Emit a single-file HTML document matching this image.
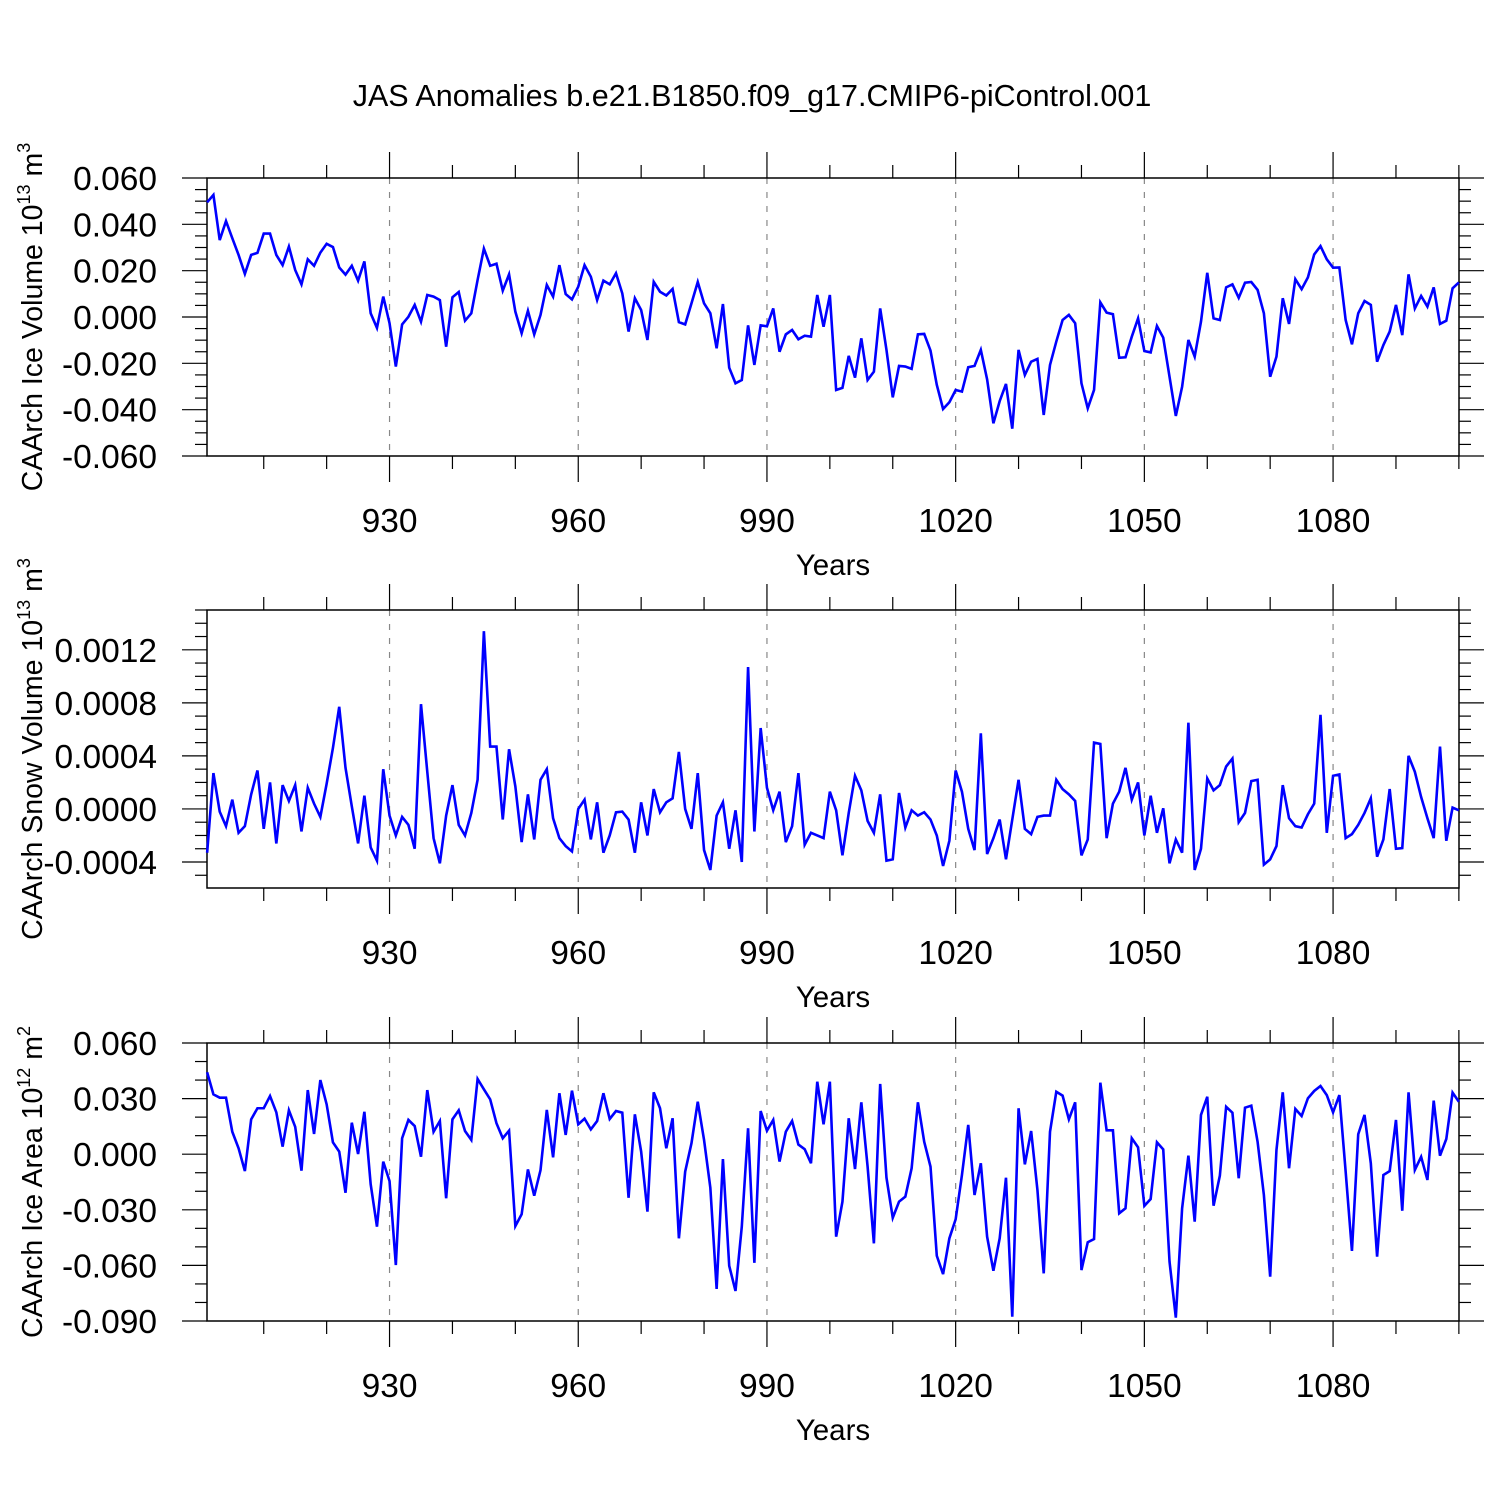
<!DOCTYPE html>
<html><head><meta charset="utf-8">
<style>
html,body{margin:0;padding:0;background:#fff;}
svg{display:block;font-family:"Liberation Sans",Arial,sans-serif;}
</style></head>
<body>
<svg id="chart" width="1500" height="1500" viewBox="0 0 1500 1500" xmlns="http://www.w3.org/2000/svg">
<rect x="0" y="0" width="1500" height="1500" fill="#fff"/>
<text x="752" y="106" font-size="30.5" text-anchor="middle">JAS Anomalies b.e21.B1850.f09_g17.CMIP6-piControl.001</text>
</svg>
<script>
const startYear = 901;
const xTickYears = [930, 960, 990, 1020, 1050, 1080];
const iceVolume = [49.5,52.7,33.2,41.4,34,26.8,18.6,26.8,27.7,36,36,26.8,22.4,30.4,20.3,14.1,24.9,22.1,27.8,31.6,30.2,21.4,18.3,22.1,15.7,24,1.6,-4.7,8.8,-2.7,-21.4,-3.2,0.1,5.2,-2,9.5,8.8,7.3,-12.8,8.5,10.8,-1.6,1.6,16,29.5,22.1,23,11.4,18.4,2.3,-7,2.7,-7.5,0.9,13.8,8.8,22.4,9.9,7.6,13.1,22.4,17.4,7.3,15.7,14.1,18.9,10.2,-6.3,8.1,3,-9.9,15.2,10.9,9.3,12.1,-2.2,-3.2,5.9,15.1,5.9,1.6,-13.5,5.6,-21.9,-28.6,-27.2,-3.6,-20.7,-3.6,-4,3.7,-15,-7.5,-5.6,-9.6,-8.1,-8.5,9.5,-4.2,9.5,-31.5,-30.6,-16.8,-26.2,-9.2,-27.2,-23.6,3.7,-14.2,-34.7,-21.1,-21.4,-22.4,-7.5,-7.3,-14.5,-29.3,-39.7,-36.8,-31.5,-32.2,-21.7,-21.1,-14.2,-26.9,-45.9,-36.3,-28.9,-48.2,-14.2,-25,-19.3,-18.1,-42.3,-20.7,-10.6,-1.3,0.9,-2.7,-28.6,-39.4,-31.5,6.3,1.9,1.2,-17.6,-17.4,-8.5,-0.6,-14.7,-15.3,-3.9,-8.9,-25.8,-42.7,-30.1,-9.9,-17.1,-2,19.1,-0.6,-1.3,12.8,14.1,8.3,14.8,15.1,11.7,1.6,-25.8,-17.1,8.1,-3,16.3,12,17.1,27,30.6,24.9,21.3,21.4,-1.3,-11.8,1.6,6.9,5.2,-19.3,-12.1,-6.3,5.2,-7.8,18.4,3.7,9.1,4.5,12.8,-3,-1.6,12.4,14.9];
const snowVolume = [-3.3,2.7,-0.2,-1.3,0.7,-1.8,-1.3,1.1,2.9,-1.5,2.0,-2.6,1.8,0.6,1.8,-1.7,1.6,0.4,-0.6,1.9,4.6,7.7,3.1,0.2,-2.6,1.0,-2.9,-3.9,3.0,-0.5,-2.0,-0.6,-1.2,-3.0,7.9,2.8,-2.2,-4.1,-0.5,1.8,-1.2,-2.0,-0.3,2.2,13.4,4.7,4.7,-0.8,4.5,1.7,-2.5,1.1,-2.3,2.2,3.0,-0.7,-2.2,-2.8,-3.2,0,0.7,-2.3,0.5,-3.3,-2.0,-0.25,-0.2,-0.8,-3.3,0.5,-2.0,1.5,-0.25,0.5,0.8,4.3,0,-1.5,2.7,-3.1,-4.6,-0.5,0.5,-3.0,-0.1,-4.0,10.7,-1.7,6.1,1.6,-0.1,1.3,-2.5,-1.3,2.7,-2.7,-1.8,-2.0,-2.2,1.3,-0.1,-3.5,-0.3,2.5,1.4,-0.9,-1.8,1.1,-3.9,-3.8,1.2,-1.4,-0.1,-0.5,-0.25,-0.8,-2.0,-4.3,-2.4,2.9,1.3,-1.5,-3.1,5.7,-3.4,-2.2,-0.8,-3.8,-0.8,2.2,-1.5,-1.9,-0.6,-0.5,-0.5,2.2,1.5,1.1,0.6,-3.5,-2.3,5.0,4.9,-2.2,0.4,1.3,3.1,0.7,2.0,-2.0,1.0,-1.8,0.05,-4.1,-2.3,-3.3,6.5,-4.6,-3.0,2.3,1.4,1.8,3.2,3.8,-1.0,-0.3,2.1,2.2,-4.2,-3.8,-2.8,1.8,-0.7,-1.3,-1.4,-0.4,0.4,7.1,-1.8,2.5,2.6,-2.2,-1.9,-1.2,-0.3,0.8,-3.6,-2.3,1.5,-3.0,-2.95,4.0,2.8,0.9,-0.7,-2.2,4.7,-2.4,0.1,-0.1];
const iceArea = [44.2,32.3,30.5,30.5,12.1,3.2,-9.1,18.8,24.8,24.8,31.4,22.6,4.1,23.7,14.8,-8.9,34.6,10.9,40,26.9,6.4,1.4,-20.8,17,0.1,22.9,-16.2,-39.1,-4.0,-14.5,-59.8,8.6,18.5,15.2,-1.4,34.6,12.1,17.9,-23.8,18.8,23.7,12.5,7.7,40.6,35,29.6,16.7,8.6,12.7,-38.8,-32.4,-8.2,-22.4,-8.6,23.9,-1.7,32.9,10.4,34.3,16.1,19.2,13.4,17.9,32.9,19,23.3,22.4,-23.5,21.5,1.4,-31,33.4,24.8,3.2,19.4,-45.4,-9.4,5.9,28.3,7.7,-18.1,-72.7,-2.6,-60.2,-73.8,-39.1,14,-58.6,23.3,12.7,18.5,-4.0,12.1,17.9,5.2,2.7,-4.9,39.1,16.1,39.1,-44.5,-25.6,19.4,-8.0,28,-6.7,-48.1,37.9,-12.7,-34.3,-25.6,-22.9,-7.6,28,6.7,-6.7,-54.8,-64.7,-45.4,-35.1,-11.2,15.8,-22,-4.9,-44.5,-62.9,-45.4,-12.7,-87.7,24.8,-5.5,12.5,-19.3,-64.3,12.1,33.7,31.6,18.8,28,-62.5,-47.5,-45.8,38.6,12.9,12.9,-31.9,-29.2,8.6,3.7,-27.9,-24.2,6.4,2.6,-58,-88.2,-29.2,-0.8,-36.4,21.2,31,-27.8,-11.6,25.6,22.4,-13,25.1,26.2,6.7,-22,-66.1,2.3,33.4,-7.6,24.4,20.6,30.2,34.1,36.8,31.9,22.6,31.9,-9.4,-52.2,10.8,21.2,-4.9,-55.3,-11.2,-9.1,18.5,-30.5,33.4,-8.5,-1.4,-13.9,28.9,-0.8,8.2,33.2,28.3];
const iceVolTicks = ["0.060","0.040","0.020","0.000","-0.020","-0.040","-0.060"];
const snowTicks = ["0.0012","0.0008","0.0004","0.0000","-0.0004"];
const iceAreaTicks = ["0.060","0.030","0.000","-0.030","-0.060","-0.090"];

const NS = "http://www.w3.org/2000/svg";
const svg = document.getElementById('chart');
const X0 = 207, X1 = 1459, YR0 = 900.98, YR1 = 1100.02;
function xs(yr){ return X0 + (yr - YR0) * (X1 - X0) / (YR1 - YR0); }
function mk(tag, attrs, parent){
  const e = document.createElementNS(NS, tag);
  for (const k in attrs) e.setAttribute(k, attrs[k]);
  (parent || svg).appendChild(e);
  return e;
}
const panels = [
  {name:'ice-volume', top:178, bot:456, vmin:-60, vmax:60, major:20, minor:5, ticks:iceVolTicks, tickVals:[60,40,20,0,-20,-40,-60], data:iceVolume, title:'CAArch Ice Volume 10', sup:'13', unit:' m', usup:'3'},
  {name:'snow-volume', top:610, bot:888, vmin:-5.96, vmax:15.0, major:4, minor:1, ticks:snowTicks, tickVals:[12,8,4,0,-4], data:snowVolume, title:'CAArch Snow Volume 10', sup:'13', unit:' m', usup:'3', minorRange:[-5,15]},
  {name:'ice-area', top:1043, bot:1321, vmin:-90, vmax:60, major:30, minor:10, ticks:iceAreaTicks, tickVals:[60,30,0,-30,-60,-90], data:iceArea, title:'CAArch Ice Area 10', sup:'12', unit:' m', usup:'2'}
];
panels.forEach(function(p){
  const g = mk('g', {});
  
  
  function ys(v){ return p.bot - (v - p.vmin) * (p.bot - p.top) / (p.vmax - p.vmin); }
  xTickYears.forEach(function(yr){
    const l = mk('line', {x1:xs(yr), x2:xs(yr), y1:p.top, y2:p.bot, stroke:'#888', 'stroke-width':1.2, 'stroke-dasharray':'6,8'}, g);
    
    
  });
  for (let yr = 910; yr <= 1100; yr += 10){
    const major = (yr % 30 === 0);
    const len = major ? 26 : 13;
    const x = xs(yr);
    mk('line', {x1:x, x2:x, y1:p.top, y2:p.top - len, stroke:'#000', 'stroke-width':1.2}, g);
    mk('line', {x1:x, x2:x, y1:p.bot, y2:p.bot + len, stroke:'#000', 'stroke-width':1.2}, g);
  }
  const lo = p.minorRange ? p.minorRange[0] : p.vmin, hi = p.minorRange ? p.minorRange[1] : p.vmax;
  for (let v = lo; v <= hi + 1e-9; v += p.minor){
    const y = ys(v);
    const isMajor = p.tickVals.some(function(t){ return Math.abs(t - v) < 1e-6; });
    const len = isMajor ? 25 : 12;
    mk('line', {x1:X0, x2:X0 - len, y1:y, y2:y, stroke:'#000', 'stroke-width':1.2}, g);
    mk('line', {x1:X1, x2:X1 + len, y1:y, y2:y, stroke:'#000', 'stroke-width':1.2}, g);
  }
  p.tickVals.forEach(function(v, i){
    const t = mk('text', {x:157, y:ys(v) + 12, 'font-size':33.5, 'text-anchor':'end'}, g);
    t.textContent = p.ticks[i];
    
    
  });
  xTickYears.forEach(function(yr){
    const t = mk('text', {x:xs(yr), y:p.bot + 76, 'font-size':33.5, 'text-anchor':'middle'}, g);
    t.textContent = String(yr);
    
    
  });
  const xt = mk('text', {x:833, y:p.bot + 119, 'font-size':29.5, 'text-anchor':'middle'}, g);
  xt.textContent = 'Years';
  
  
  const cy = (p.top + p.bot) / 2;
  const yt = mk('text', {x:0, y:0, 'font-size':28.5, 'text-anchor':'middle', transform:'translate(42,' + cy + ') rotate(-90)'}, g);
  
  
  yt.appendChild(document.createTextNode(p.title));
  const s1 = mk('tspan', {'font-size':18, dy:-12}, yt); s1.textContent = p.sup;
  const s2 = mk('tspan', {dy:12}, yt); s2.textContent = p.unit;
  const s3 = mk('tspan', {'font-size':18, dy:-12}, yt); s3.textContent = p.usup;
  const fr = mk('rect', {x:X0, y:p.top, width:X1 - X0, height:p.bot - p.top, fill:'none', stroke:'#000', 'stroke-width':1.5}, g);
  
  
  const pts = p.data.map(function(v, i){ return xs(startYear + i).toFixed(2) + ',' + ys(v).toFixed(2); }).join(' ');
  const pl = mk('polyline', {points:pts, fill:'none', stroke:'#0000ff', 'stroke-width':2.6, 'stroke-linejoin':'miter'}, g);
  
  
});
</script>
</body></html>
